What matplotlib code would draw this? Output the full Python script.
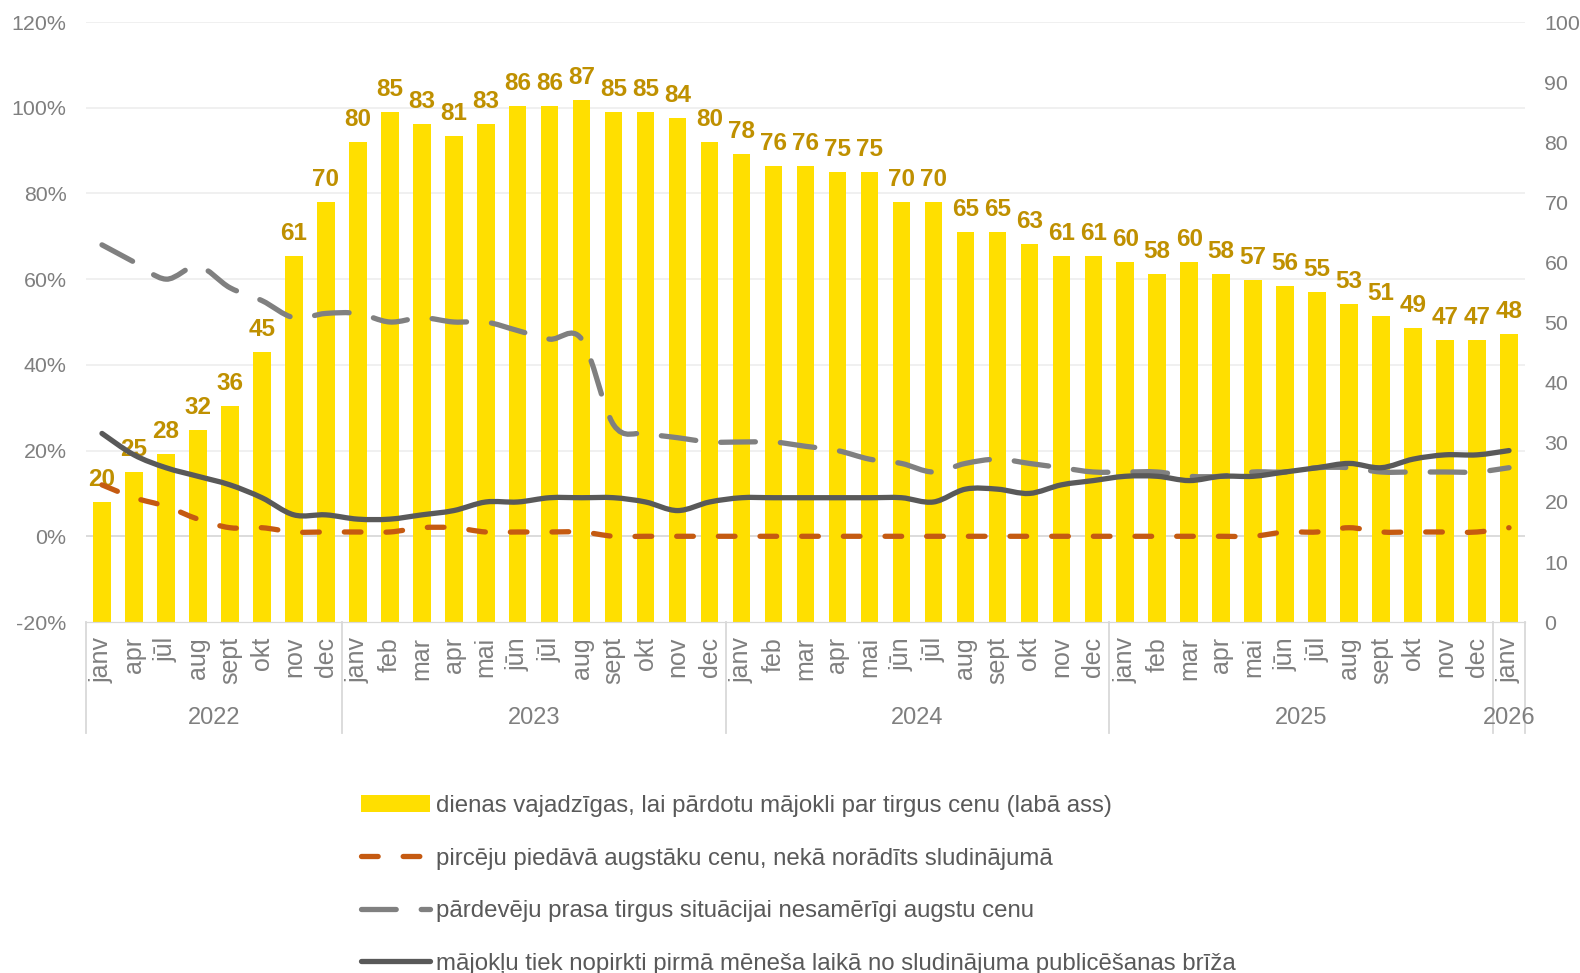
import matplotlib
matplotlib.use("Agg")
import matplotlib.pyplot as plt
import numpy as np
from matplotlib.path import Path
from matplotlib.patches import PathPatch, Patch
from matplotlib.lines import Line2D
from matplotlib.transforms import blended_transform_factory

plt.rcParams["font.family"] = ["Liberation Sans", "DejaVu Sans"]
plt.rcParams["lines.scale_dashes"] = False

months = ["janv", "apr", "jūl", "aug", "sept", "okt", "nov", "dec",
          "janv", "feb", "mar", "apr", "mai", "jūn", "jūl", "aug", "sept", "okt", "nov", "dec",
          "janv", "feb", "mar", "apr", "mai", "jūn", "jūl", "aug", "sept", "okt", "nov", "dec",
          "janv", "feb", "mar", "apr", "mai", "jūn", "jūl", "aug", "sept", "okt", "nov", "dec",
          "janv"]
year_names = ["2022", "2023", "2024", "2025", "2026"]
year_counts = [8, 12, 12, 12, 1]

# days needed to sell at market price (right axis)
days = [20, 25, 28, 32, 36, 45, 61, 70,
        80, 85, 83, 81, 83, 86, 86, 87, 85, 85, 84, 80,
        78, 76, 76, 75, 75, 70, 70, 65, 65, 63, 61, 61,
        60, 58, 60, 58, 57, 56, 55, 53, 51, 49, 47, 47,
        48]
# shares in % (left axis)
buyers_offer_more = [12, 9, 7, 4, 2, 2, 1, 1,
                     1, 1, 2, 2, 1, 1, 1, 1, 0, 0, 0, 0,
                     0, 0, 0, 0, 0, 0, 0, 0, 0, 0, 0, 0,
                     0, 0, 0, 0, 0, 1, 1, 2, 1, 1, 1, 1,
                     2]
sellers_ask_high = [68, 64, 60, 63, 58, 55, 51, 52,
                    52, 50, 51, 50, 50, 48, 46, 46, 26, 24, 23, 22,
                    22, 22, 21, 20, 18, 17, 15, 17, 18, 17, 16, 15,
                    15, 15, 14, 14, 15, 15, 16, 16, 15, 15, 15, 15,
                    16]
sold_first_month = [24, 19, 16, 14, 12, 9, 5, 5,
                    4, 4, 5, 6, 8, 8, 9, 9, 9, 8, 6, 8,
                    9, 9, 9, 9, 9, 9, 8, 11, 11, 10, 12, 13,
                    14, 14, 13, 14, 14, 15, 16, 17, 16, 18, 19, 19,
                    20]

labels = ["dienas vajadzīgas, lai pārdotu mājokli par tirgus cenu (labā ass)",
          "pircēju piedāvā augstāku cenu, nekā norādīts sludinājumā",
          "pārdevēju prasa tirgus situācijai nesamērīgi augstu cenu",
          "mājokļu tiek nopirkti pirmā mēneša laikā no sludinājuma publicēšanas brīža"]

BAR = "#FFDF00"
ORANGE = "#C55A11"
GREY = "#808080"
DARK = "#595959"
TICK = "#7F7F7F"


def smooth_path(xs, ys):
    # Catmull-Rom style cubic Bezier through the points
    pts = np.column_stack([xs, ys]).astype(float)
    n = len(pts)
    verts = [pts[0]]
    codes = [Path.MOVETO]
    for i in range(n - 1):
        p0 = pts[max(i - 1, 0)]
        p1 = pts[i]
        p2 = pts[i + 1]
        p3 = pts[min(i + 2, n - 1)]
        verts += [p1 + (p2 - p0) / 6, p2 - (p3 - p1) / 6, p2]
        codes += [Path.CURVE4] * 3
    return Path(verts, codes)


fig = plt.figure(figsize=(15.8, 9.73), dpi=100)
ax = fig.add_axes([86 / 1580, 1 - 622 / 973, 1439 / 1580, 600 / 973])
ax2 = ax.twinx()

x = np.arange(len(days))
ax.set_xlim(-0.5, len(days) - 0.5)
ax.set_ylim(0, 100)
ax2.set_ylim(-20, 120)

# gridlines on the percent scale, kept behind the bars
grid_tr = blended_transform_factory(ax.transAxes, ax2.transData)
for g in range(0, 121, 20):
    ax.add_line(Line2D([0, 1], [g, g], transform=grid_tr,
                       color="#D9D9D9" if g == 0 else "#EFEFEF",
                       lw=1.3, zorder=1))

ax.bar(x, days, width=0.55, color=BAR, zorder=2)
for xi, v in zip(x, days):
    ax.text(xi, v + 1.9, str(v), ha="center", va="bottom",
            fontsize=17.5, fontweight="bold", color="#BF9000", zorder=5)

lw = 3.8
series = [(buyers_offer_more, ORANGE, (0, (12, 18))),
          (sellers_ask_high, GREY, (0, (25, 18))),
          (sold_first_month, DARK, "solid")]
for vals, col, ls in series:
    ax2.add_patch(PathPatch(smooth_path(x, vals), facecolor="none",
                            edgecolor=col, lw=lw, linestyle=ls,
                            capstyle="round", joinstyle="round", zorder=4))

# axes styling
ax.yaxis.tick_right()
ax2.yaxis.tick_left()
ax.set_yticks(range(0, 101, 10))
ax2.set_yticks(range(-20, 121, 20))
ax2.set_yticklabels([f"{t}%" for t in range(-20, 121, 20)])
ax.tick_params(axis="y", length=0, pad=14, labelsize=15.4, labelcolor=TICK)
ax2.tick_params(axis="y", length=0, pad=14, labelsize=15.4, labelcolor=TICK)
ax.set_xticks([])
for a in (ax, ax2):
    for s in ("top", "left", "right"):
        a.spines[s].set_visible(False)
    a.spines["bottom"].set_color("#D9D9D9")

# two-level category axis
tr = blended_transform_factory(ax.transData, ax.transAxes)
for xi, m in zip(x, months):
    ax.text(xi, -0.025, m, transform=tr, rotation=90, ha="center", va="top",
            fontsize=18, color=TICK)
edges = np.concatenate([[0], np.cumsum(year_counts)]) - 0.5
for e in edges:
    ax.add_line(Line2D([e, e], [0, -0.185], transform=tr, color="#D9D9D9",
                       lw=1.3, clip_on=False))
for name, lo, hi in zip(year_names, edges[:-1], edges[1:]):
    ax.text((lo + hi) / 2, -0.16, name, transform=tr, ha="center", va="center",
            fontsize=17, color=TICK)

handles = [Patch(facecolor=BAR, edgecolor="none"),
           Line2D([], [], color=ORANGE, lw=lw, linestyle=(0, (12, 18)),
                  dash_capstyle="round"),
           Line2D([], [], color=GREY, lw=lw, linestyle=(0, (25, 18)),
                  dash_capstyle="round"),
           Line2D([], [], color=DARK, lw=lw, solid_capstyle="round")]
fig.legend(handles, labels, loc="upper left",
           bbox_to_anchor=(349 / 1580, 1 - 783 / 973), frameon=False,
           fontsize=17.3, labelcolor="#595959", handlelength=2.87,
           handletextpad=0.25, labelspacing=1.27, borderpad=0)

fig.savefig("out.png", dpi=100)
